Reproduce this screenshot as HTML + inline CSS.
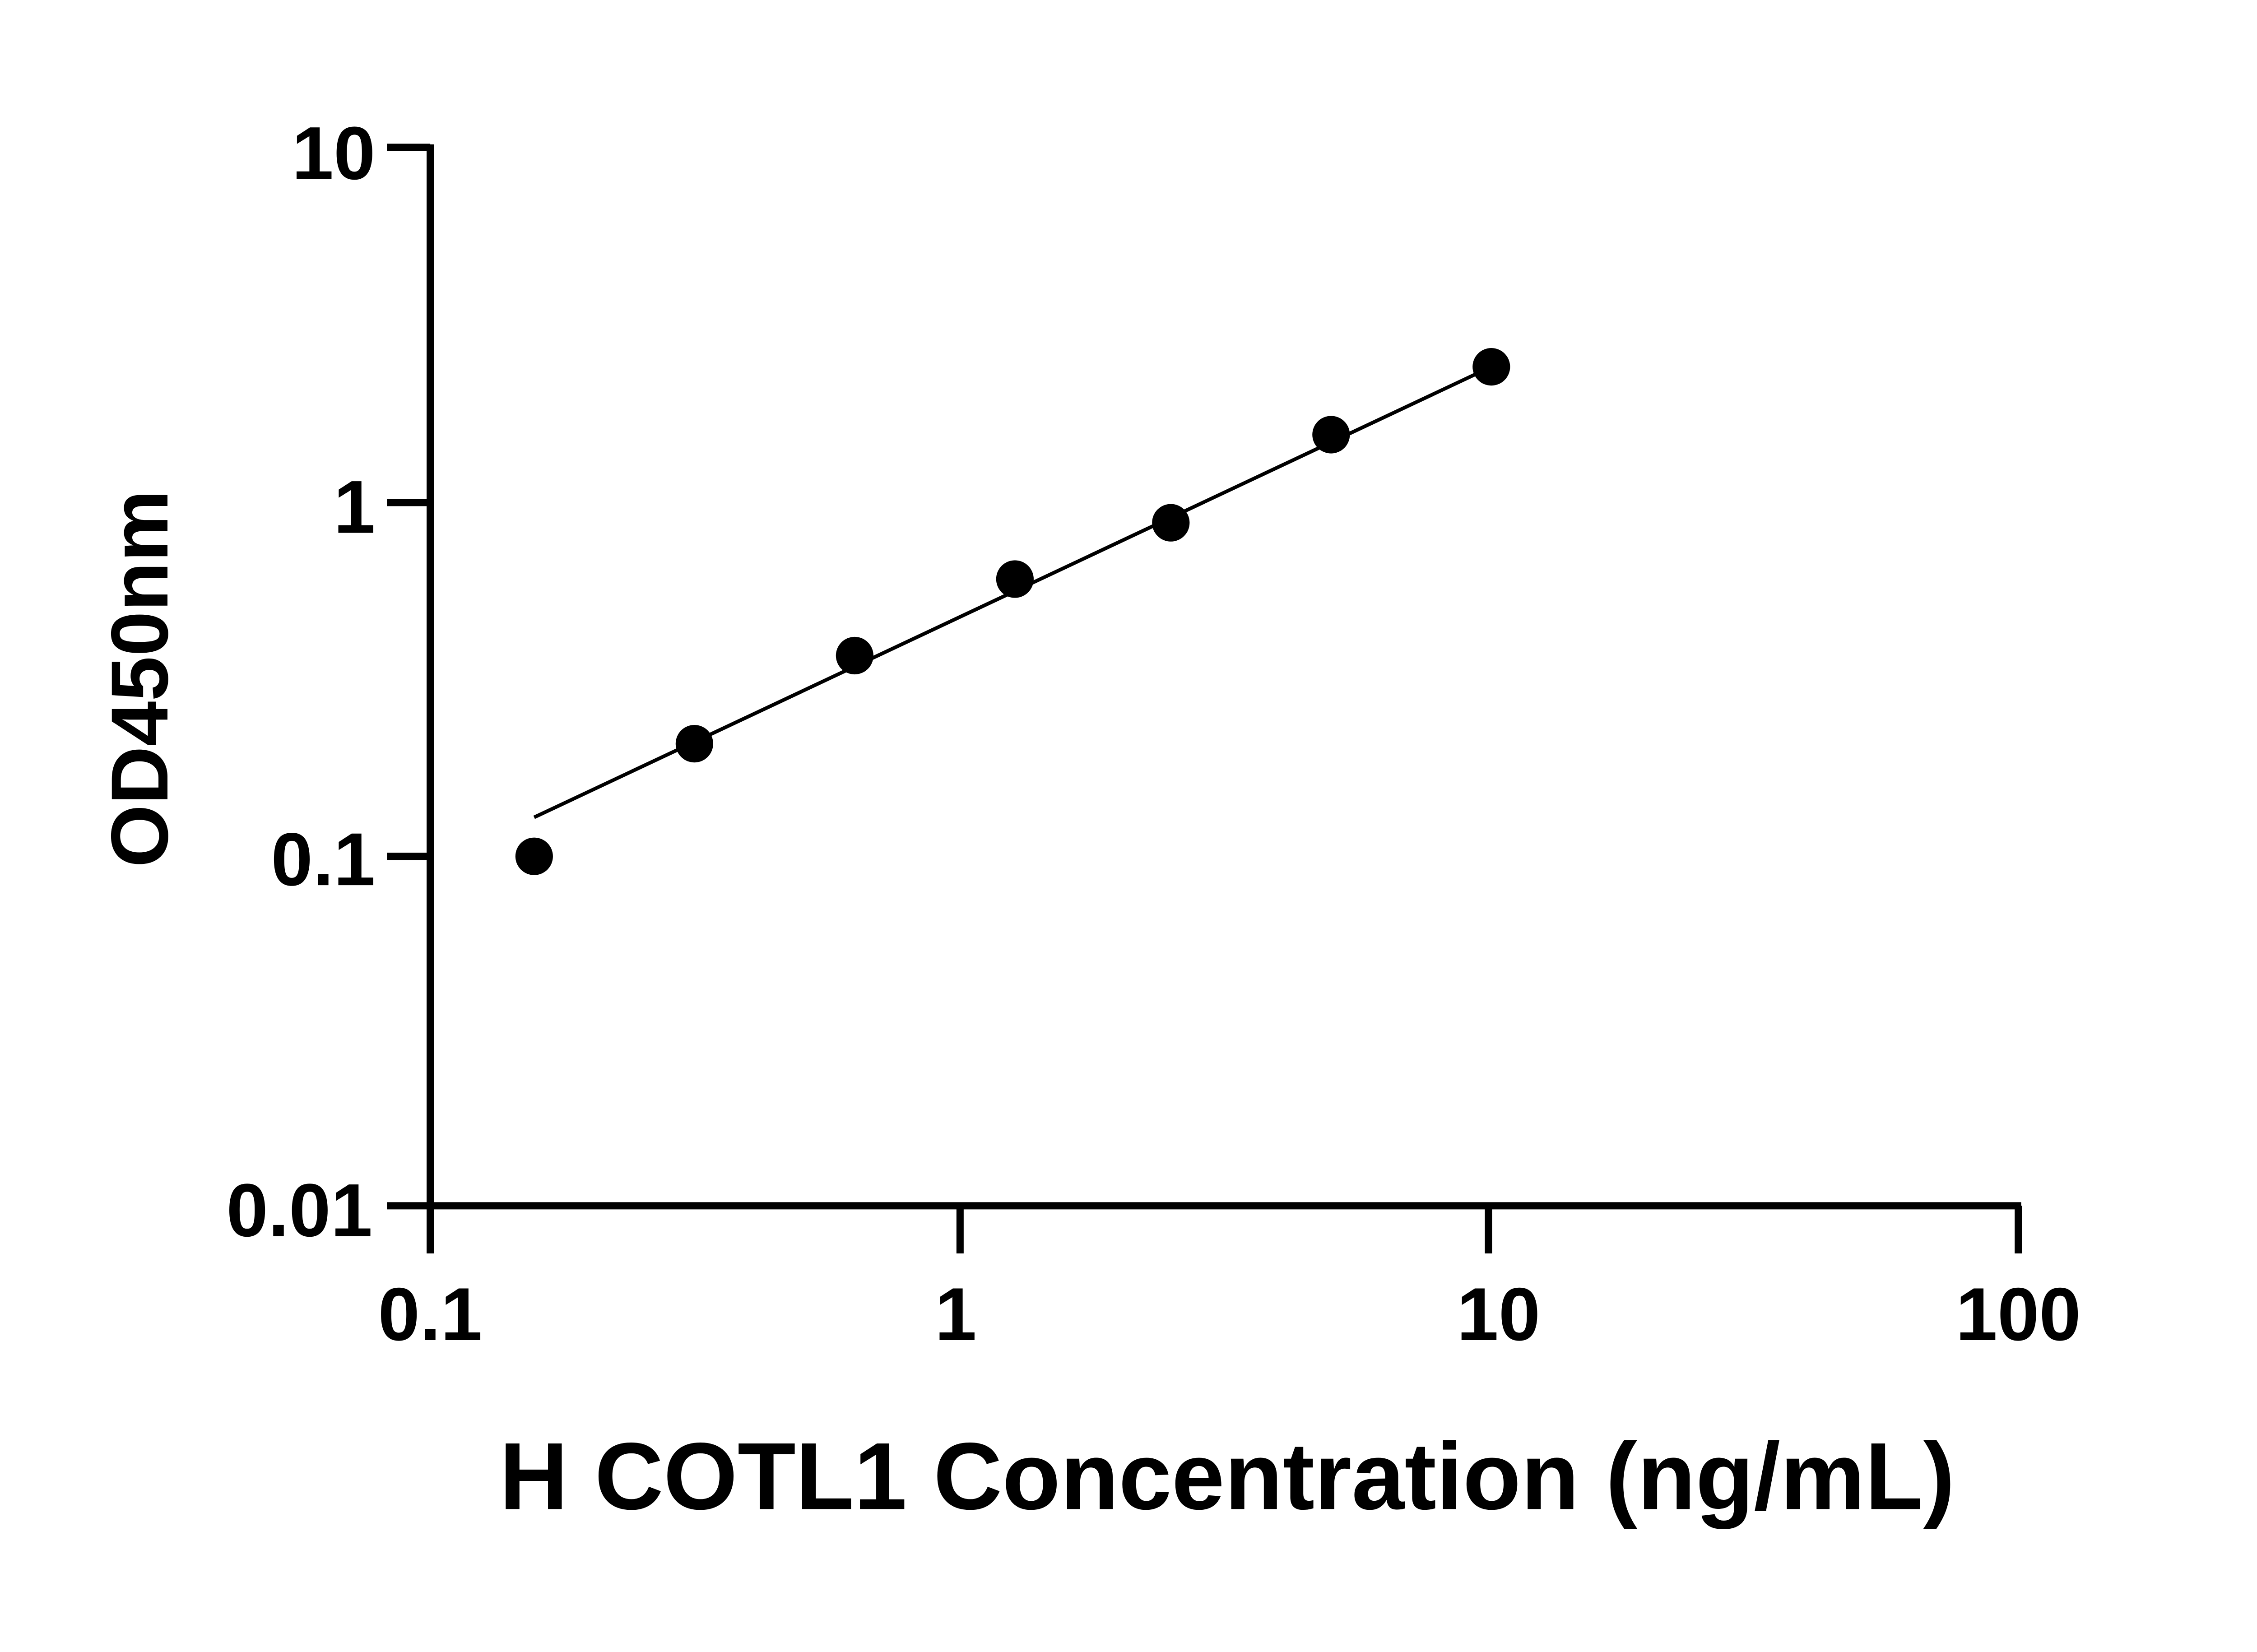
<!DOCTYPE html>
<html><head><meta charset="utf-8"><style>html,body{margin:0;padding:0;background:#fff}svg{display:block}</style></head>
<body>
<svg width="5130" height="3660" viewBox="0 0 1604 1144" preserveAspectRatio="none" xmlns="http://www.w3.org/2000/svg">
<rect width="1604" height="1144" fill="#fff"/>
<g stroke="#000" stroke-width="5" fill="none" stroke-linecap="butt">
<line x1="298" y1="100" x2="298" y2="868"/>
<line x1="295.5" y1="835" x2="1400" y2="835"/>
<line x1="268" y1="102" x2="298" y2="102"/>
<line x1="268" y1="348" x2="298" y2="348"/>
<line x1="268" y1="593" x2="298" y2="593"/>
<line x1="268" y1="835" x2="298" y2="835"/>
<line x1="665" y1="835" x2="665" y2="868"/>
<line x1="1031" y1="835" x2="1031" y2="868"/>
<line x1="1398" y1="835" x2="1398" y2="868"/>
</g>
<line x1="370" y1="566" x2="1033" y2="254" stroke="#000" stroke-width="2.5"/>
<g fill="#000">
<circle cx="370" cy="593" r="13"/>
<circle cx="481" cy="515" r="13"/>
<circle cx="592" cy="454" r="13"/>
<circle cx="703" cy="401" r="13"/>
<circle cx="811" cy="362" r="13"/>
<circle cx="922" cy="301" r="13"/>
<circle cx="1033" cy="254" r="13"/>
</g>
<g font-family="Liberation Sans, sans-serif" font-weight="bold" font-size="52" fill="#000">
<g text-anchor="end">
<text x="260" y="124">10</text>
<text x="260" y="369">1</text>
<text x="260" y="613">0.1</text>
<text x="258" y="856">0.01</text>
</g>
<g text-anchor="middle">
<text x="298" y="928">0.1</text>
<text x="662" y="928">1</text>
<text x="1038" y="928">10</text>
<text x="1398" y="928">100</text>
</g>
<text x="850" y="1045" text-anchor="middle" font-size="66">H COTL1 Concentration (ng/mL)</text>
<text transform="translate(116,470) rotate(-90)" text-anchor="middle" font-size="56">OD450nm</text>
</g>
</svg>
</body></html>
